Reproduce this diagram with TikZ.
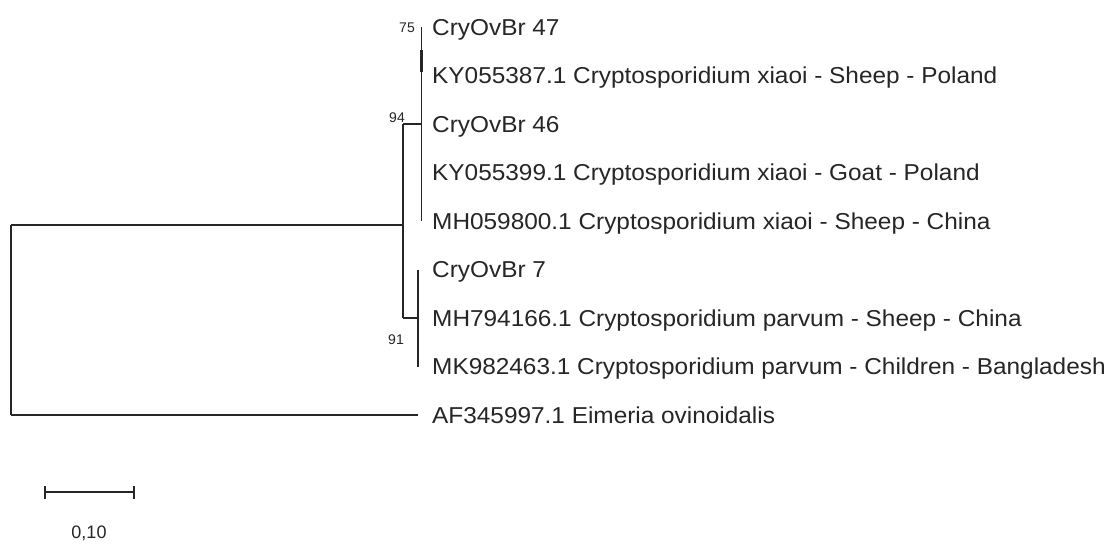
\documentclass[tikz,border=0pt]{standalone}
\usepackage{fontspec}
\setmainfont{Liberation Sans}
\newfontfamily\taxonfont[FakeStretch=1.06]{Liberation Sans}
\begin{document}
\begin{tikzpicture}[x=1pt,y=-1pt,
  branch/.style={draw=black!85, line width=1.1pt},
  taxon/.style={anchor=base west, inner sep=0pt, text=black!85,
    font=\taxonfont\fontsize{23}{23}\selectfont},
  support/.style={inner sep=0pt, text=black!85, font=\fontsize{14}{14}\selectfont},
  scalelabel/.style={inner sep=0pt, text=black!85, font=\fontsize{18}{18}\selectfont}]
\useasboundingbox (0,0) rectangle (1115,543);
\fill[white] (0,0) rectangle (1115,543);

% tip positions (one row every 48.5 units)
\coordinate (t1) at (421.5,27);
\coordinate (t2) at (421.5,75.5);
\coordinate (t3) at (421.5,124);
\coordinate (t4) at (421.5,172.5);
\coordinate (t5) at (421.5,221);
\coordinate (t6) at (418,269.5);
\coordinate (t7) at (418,318);
\coordinate (t8) at (418,366.5);
\coordinate (t9) at (418,415);

% internal nodes
\coordinate (root) at (11,225);
\coordinate (rootlow) at (11,415);
\coordinate (ingroup) at (403,225);
\coordinate (inA) at (403,124);
\coordinate (inB) at (403,318);
\coordinate (xiaoi) at (421.5,124);
\coordinate (parvum) at (418,318);
\coordinate (n75a) at (421.5,50);
\coordinate (n75b) at (421.5,72);

% taxon labels (baseline a little below each tip)
\node[taxon] (l1) at ([xshift=10.5,yshift=-8.3]t1) {CryOvBr 47};
\node[taxon] (l2) at ([xshift=10.5,yshift=-8.3]t2) {KY055387.1 Cryptosporidium xiaoi - Sheep - Poland};
\node[taxon] (l3) at ([xshift=10.5,yshift=-8.3]t3) {CryOvBr 46};
\node[taxon] (l4) at ([xshift=10.5,yshift=-8.3]t4) {KY055399.1 Cryptosporidium xiaoi - Goat - Poland};
\node[taxon] (l5) at ([xshift=10.5,yshift=-8.3]t5) {MH059800.1 Cryptosporidium xiaoi - Sheep - China};
\node[taxon] (l6) at ([xshift=14,yshift=-8.3]t6) {CryOvBr 7};
\node[taxon] (l7) at ([xshift=14,yshift=-8.3]t7) {MH794166.1 Cryptosporidium parvum - Sheep - China};
\node[taxon] (l8) at ([xshift=14,yshift=-8.3]t8) {MK982463.1 Cryptosporidium parvum - Children - Bangladesh};
\node[taxon] (l9) at ([xshift=14,yshift=-8.3]t9) {AF345997.1 Eimeria ovinoidalis};

% branches
\draw[branch] (root) -- (rootlow);
\draw[branch] (rootlow) -- (t9);
\draw[branch] (root) -- (ingroup);
\draw[branch] (inA) -- (inB);
\draw[branch] (inA) -- (xiaoi);
\draw[branch] (t1) -- (t5);
\draw[draw=black!85, line width=2.2pt] (n75a) -- (n75b);
\draw[branch] (inB) -- (parvum);
\draw[branch] (t6) -- (t8);

% bootstrap values
\node[support] (b75) at (407,28) {75};
\node[support] (b94) at (397,118) {94};
\node[support] (b91) at (396,340) {91};

% scale bar
\coordinate (sbL) at (45,492);
\coordinate (sbR) at (134,492);
\draw[branch] (sbL) -- (sbR);
\draw[branch] ([yshift=-6.5]sbL) -- ([yshift=6.5]sbL);
\draw[branch] ([yshift=-6.5]sbR) -- ([yshift=6.5]sbR);
\node[scalelabel] (sblabel) at (89,533.5) {0,10};
\end{tikzpicture}
\end{document}
